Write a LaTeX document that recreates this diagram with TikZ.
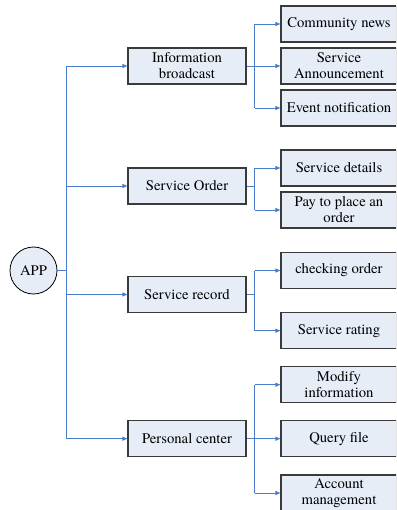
\documentclass[tikz,border=0pt]{standalone}
\usepackage{fontspec}
\setmainfont{TeX Gyre Termes}
\usetikzlibrary{arrows.meta}
\definecolor{boxfill}{HTML}{E6EDF7}
\definecolor{boxline}{HTML}{3A3A3A}
\definecolor{linkblue}{HTML}{4A7CCB}
\begin{document}
\begin{tikzpicture}[x=1pt,y=-1pt,
  every node/.style={font=\rmfamily\fontsize{14.7}{16}\selectfont, align=center, inner sep=0pt},
  modbox/.style={draw=boxline, line width=1.2pt, fill=boxfill, rectangle,
    minimum width=118pt, minimum height=36pt},
  subbox/.style={draw=boxline, line width=1.2pt, fill=boxfill, rectangle,
    minimum width=116pt, minimum height=36pt},
  link/.style={draw=linkblue, line width=0.9pt},
  arr/.style={link, -{Triangle[length=5pt,width=4pt]}}]
\useasboundingbox (0,0) rectangle (396,510);
\clip (0,0) rectangle (396,510);

% root
\node[circle, draw=black, line width=0.8pt, fill=boxfill, minimum size=47pt] (app) at (33.5,270.5) {APP};

% first level modules
\node[modbox] (info) at (187,66) {Information\\broadcast};
\node[modbox] (order) at (187,186) {Service Order};
\node[modbox] (record) at (187,294.5) {Service record};
\node[modbox] (personal) at (187,438.7) {Personal center};

% second level functions
\node[subbox] (news) at (339,24) {Community news};
\node[subbox] (announce) at (339,66) {Service\\Announcement};
\node[subbox] (event) at (339,108) {Event notification};
\node[subbox] (details) at (339,168) {Service details};
\node[subbox] (pay) at (339,210) {Pay to place an\\order};
\node[subbox] (check) at (339,270.5) {checking order};
\node[subbox] (rating) at (339,330.7) {Service rating};
\node[subbox] (modify) at (339,384.7) {Modify\\information};
\node[subbox] (query) at (339,438.7) {Query file};
\node[subbox] (account) at (339,493) {Account\\management};

% trunk and branch positions
\coordinate (tr) at (66.5,0);
\coordinate (br) at (254.5,0);

% root to modules
\draw[link] (app.east) -- (app.east -| tr);
\draw[link] (info.west -| tr) -- (personal.west -| tr);
\foreach \m in {info,order,record,personal}
  \draw[arr] (\m.west -| tr) -- (\m.west);

% modules to functions
\draw[link] (info.east) -- (info.east -| br);
\draw[link] (news.west -| br) -- (event.west -| br);
\foreach \s in {news,announce,event}
  \draw[arr] (\s.west -| br) -- (\s.west);

\draw[link] (order.east) -- (order.east -| br);
\draw[link] (details.west -| br) -- (pay.west -| br);
\foreach \s in {details,pay}
  \draw[arr] (\s.west -| br) -- (\s.west);

\draw[link] (record.east) -- (record.east -| br);
\draw[link] (check.west -| br) -- (rating.west -| br);
\foreach \s in {check,rating}
  \draw[arr] (\s.west -| br) -- (\s.west);

\draw[link] (personal.east) -- (personal.east -| br);
\draw[link] (modify.west -| br) -- (account.west -| br);
\foreach \s in {modify,query,account}
  \draw[arr] (\s.west -| br) -- (\s.west);
\end{tikzpicture}
\end{document}
